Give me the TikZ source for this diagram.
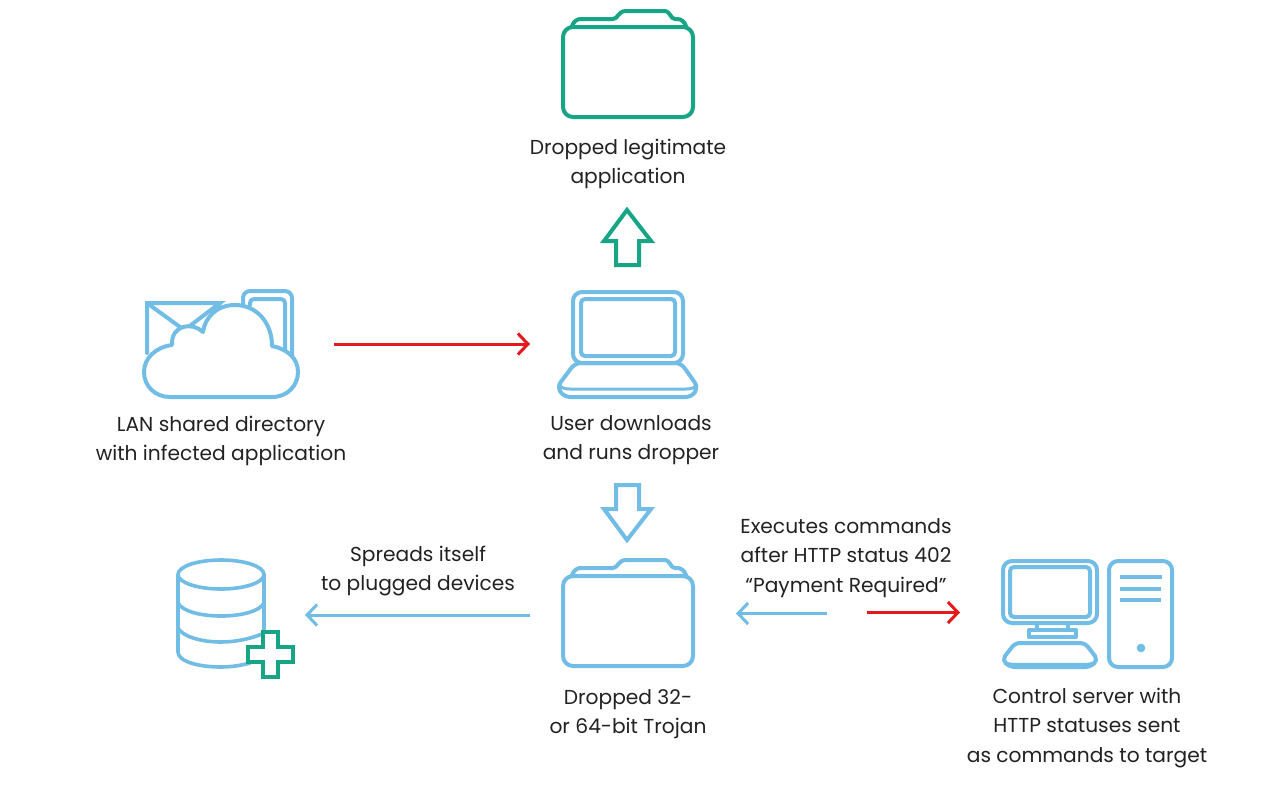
\documentclass[tikz,border=0pt]{standalone}
\usepackage{fontspec}
\setmainfont{Poppins}
\usetikzlibrary{arrows.meta}
\definecolor{kblue}{HTML}{72BDE5}
\definecolor{kgreen}{HTML}{17A585}
\definecolor{kred}{HTML}{E5181E}
\definecolor{ktext}{HTML}{222222}
\tikzset{
  icon/.style={line width=4pt,line join=round,line cap=round},
  thin icon/.style={line width=3.6pt,line join=round,line cap=round},
  label/.style={align=center,text=ktext,font=\fontsize{20.2}{29.5}\selectfont,inner sep=0pt},
  link/.style={line width=3pt,-{Straight Barb[length=10pt,width=21pt,line width=3pt]}},
  folder/.pic={
    \draw[icon,pic actions,rounded corners=10pt] (563,27) rectangle (693,117);
    \draw[icon,pic actions] (572,26) .. controls (574,21) and (577,19) .. (581,19) -- (613,19)
      .. controls (618,19) and (618,11) .. (626,11) -- (664,11)
      .. controls (671,11) and (670,19) .. (675,19) -- (677,19)
      .. controls (681,19) and (684,21) .. (686,26);
  }
}
\begin{document}
\begin{tikzpicture}[x=1pt,y=-1pt]
\useasboundingbox (0,0) rectangle (1285,803);
\fill[white] (0,0) rectangle (1285,803);

% top folder
\pic[draw=kgreen] at (0,0) {folder};
\node[label] (dropapp) at (628,164) {Dropped legitimate\\application};

% green arrow
\draw[icon,draw=kgreen,line cap=butt,miter limit=10,line join=miter] (627,210) -- (651,241) -- (639,241) -- (639,265) -- (616,265) -- (616,241) -- (604,241) -- cycle;

% cloud icon
\begin{scope}[draw=kblue]
\draw[icon,line join=miter] (243,304) -- (243,298) [rounded corners=7pt] -- (243,291) -- (292,291) -- (292,356);
\draw[icon] (250,305) [rounded corners=4pt] -- (250,299) -- (285,299) -- (285,350);
\draw[icon,line join=miter] (147,353) -- (147,303) -- (220,303) -- (191,325);
\draw[icon] (147,303) -- (180,327);
\draw[icon] (220,303) -- (204,331);
\draw[icon,fill=white] (170,397) -- (272,397)
  .. controls (288,397) and (298,385) .. (298,372)
  .. controls (298,358) and (287,349) .. (272,346)
  .. controls (272,322) and (256,305) .. (235,305)
  .. controls (217,305) and (205,317) .. (203,332)
  .. controls (193,322) and (171,324) .. (172,345)
  .. controls (156,347) and (144,358) .. (144,372)
  .. controls (144,386) and (155,397) .. (170,397) -- cycle;
\end{scope}
\node[label] (lan) at (221,441) {LAN shared directory\\with infected application};

% laptop
\begin{scope}[draw=kblue]
\draw[icon,rounded corners=9pt] (573,363) rectangle (683,292);
\draw[icon,rounded corners=4pt] (581,356) rectangle (675,299);
\draw[icon,rounded corners=6pt] (575,363) -- (681,363) -- (698,387) -- (692,397) -- (564,397) -- (557,387) -- cycle;
\draw[icon,line width=3pt] (559,385) .. controls (561,388) and (565,389) .. (570,389) -- (686,389) .. controls (691,389) and (695,388) .. (697,385);
\end{scope}
\node[label] (user) at (631,440) {User downloads\\and runs dropper};

% blue down arrow
\draw[icon,draw=kblue,line cap=butt,miter limit=10,line join=miter] (616,485) -- (639,485) -- (639,509) -- (651,509) -- (627,540) -- (604,509) -- (616,509) -- cycle;

% lower folder
\pic[draw=kblue] at (0,549) {folder};
\node[label] (trojan) at (628,714) {Dropped 32-\\or 64-bit Trojan};

% database
\begin{scope}[draw=kblue]
\draw[thin icon] (221,574.5) ellipse [x radius=43pt,y radius=14.5pt];
\draw[thin icon] (178,574.5) -- (178,652) .. controls (178,662) and (200,667) .. (221,667) .. controls (232,667) and (243,665) .. (250,663);
\draw[thin icon] (264,574.5) -- (264,634);
\draw[thin icon] (178,603) .. controls (182,611) and (200,616) .. (221,616) .. controls (242,616) and (260,611) .. (264,603);
\draw[thin icon] (178,628) .. controls (182,636) and (200,642) .. (221,642) .. controls (235,642) and (250,639) .. (262,634);
\end{scope}
\draw[icon,draw=kgreen,fill=white,line join=miter] (263,632) -- (278,632) -- (278,647) -- (293,647) -- (293,662) -- (278,662) -- (278,677) -- (263,677) -- (263,662) -- (248,662) -- (248,647) -- (263,647) -- cycle;

% computer
\begin{scope}[draw=kblue]
\draw[icon,rounded corners=9pt] (1003,561) rectangle (1097,623);
\draw[icon,rounded corners=4pt] (1010,567) rectangle (1090,617);
\draw[icon] (1037,623) -- (1037,630);
\draw[icon] (1068,623) -- (1068,630);
\draw[icon] (1029,630) rectangle (1076,637);
\draw[icon,rounded corners=5pt] (1015,643) -- (1085,643) -- (1098,660) -- (1090,667) -- (1010,667) -- (1002,660) -- cycle;
\draw[icon,line width=2.4pt] (1004,661) .. controls (1006,663) and (1009,664) .. (1012,664) -- (1088,664) .. controls (1091,664) and (1094,663) .. (1096,661);
\draw[icon,rounded corners=9pt] (1109,561) rectangle (1172,667);
\draw[icon,line cap=butt] (1120,577) -- (1162,577);
\draw[icon,line cap=butt] (1120,588.5) -- (1161,588.5);
\draw[icon,line cap=butt] (1120,599.5) -- (1161,599.5);
\fill[kblue] (1141,648) circle (4.3pt);
\end{scope}
\node[label] (server) at (1087,728) {Control server with\\HTTP statuses sent\\as commands to target};

% connector labels
\node[label] (spreads) at (418,571) {Spreads itself\\to plugged devices};
\node[label] (exec) at (846,558) {Executes commands\\after HTTP status 402\\“Payment Required”};

% connector ends
\coordinate (lanE) at (334,344);
\coordinate (laptopW) at (530,344);
\coordinate (trojanW) at (530,615);
\coordinate (dbE) at (305,615);
\coordinate (trojanR) at (736,613.5);
\coordinate (serverL) at (827,613.5);
\coordinate (cmdL) at (867,612.5);
\coordinate (cmdR) at (960,612.5);

\draw[link,draw=kred] (lanE) -- (laptopW);
\draw[link,draw=kblue] (trojanW) -- (dbE);
\draw[link,draw=kblue] (serverL) -- (trojanR);
\draw[link,draw=kred] (cmdL) -- (cmdR);
\end{tikzpicture}
\end{document}
